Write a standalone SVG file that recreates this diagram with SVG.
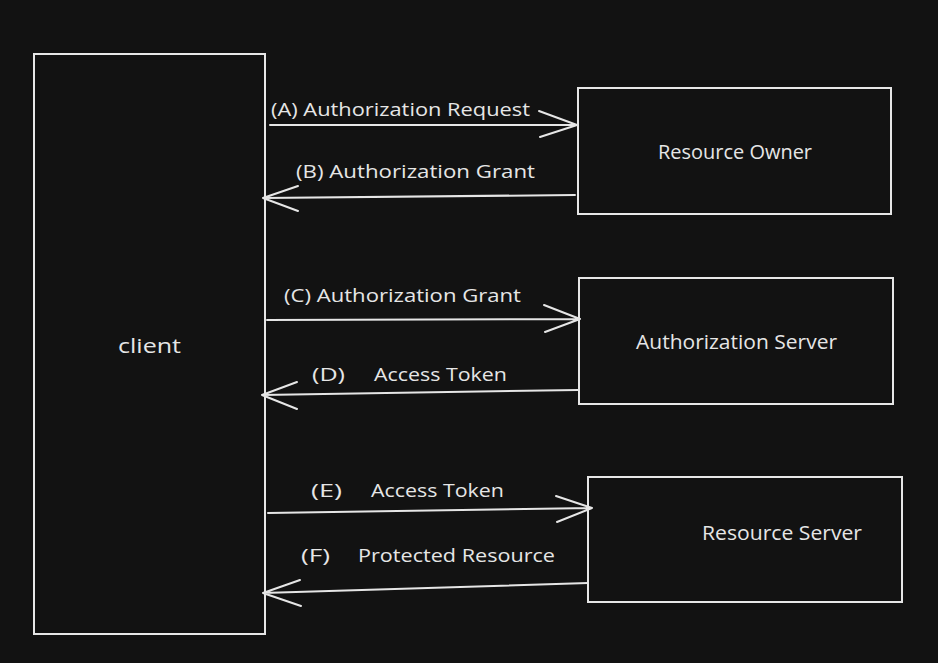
<svg xmlns="http://www.w3.org/2000/svg" width="938" height="663" viewBox="0 0 938 663">
<style>
.bg{fill:#121212}
.box{fill:none;stroke:#e6e6e6;stroke-width:2}
.ln{fill:none;stroke:#e6e6e6;stroke-width:2;stroke-linecap:round;stroke-linejoin:round}
.t{fill:#e6e6e6;font-family:"Open Sans","Liberation Sans",sans-serif;font-size:19px}
.n{fill:#e6e6e6;font-family:"Open Sans","Liberation Sans",sans-serif;font-size:20px}
</style>
<rect class="bg" x="0" y="0" width="938" height="663"/>
<g id="client">
<rect class="box" x="34" y="54" width="231" height="580"/>
<text class="n" x="118" y="353" font-size="25" textLength="63" lengthAdjust="spacingAndGlyphs">client</text>
</g>
<g id="resource-owner">
<rect class="box" x="578" y="88" width="313" height="126"/>
<text class="n" x="658" y="159" textLength="154" lengthAdjust="spacingAndGlyphs">Resource Owner</text>
</g>
<g id="authorization-server">
<rect class="box" x="579" y="278" width="314" height="126"/>
<text class="n" x="636" y="349" textLength="201" lengthAdjust="spacingAndGlyphs">Authorization Server</text>
</g>
<g id="resource-server">
<rect class="box" x="588" y="477" width="314" height="125"/>
<text class="n" x="702" y="540" textLength="160" lengthAdjust="spacingAndGlyphs">Resource Server</text>
</g>
<g id="connectors">
<path class="ln" d="M270 125 L577 125 M539 111 L577 125 L540 137"/>
<path class="ln" d="M575 195 L263 198 M298 186 L263 198 L298 211"/>
<path class="ln" d="M267 320 L580 319 M544 305 L580 319 L545 332"/>
<path class="ln" d="M578 390 L262 395 M297 382 L262 395 L297 409"/>
<path class="ln" d="M268 513 L592 508 M556 496 L592 508 L557 522"/>
<path class="ln" d="M588 583 L263 593 M300 580 L263 593 L301 606"/>
</g>
<g id="labels">
<text class="t" x="271" y="116" textLength="259" lengthAdjust="spacingAndGlyphs">(A) Authorization Request</text>
<text class="t" x="296" y="178" textLength="239" lengthAdjust="spacingAndGlyphs">(B) Authorization Grant</text>
<text class="t" x="284" y="302" textLength="237" lengthAdjust="spacingAndGlyphs">(C) Authorization Grant</text>
<text class="t" x="312" y="381" textLength="33" lengthAdjust="spacingAndGlyphs">(D)</text>
<text class="t" x="374" y="381" textLength="133" lengthAdjust="spacingAndGlyphs">Access Token</text>
<text class="t" x="311" y="497" textLength="31" lengthAdjust="spacingAndGlyphs">(E)</text>
<text class="t" x="371" y="497" textLength="133" lengthAdjust="spacingAndGlyphs">Access Token</text>
<text class="t" x="301" y="562" textLength="29" lengthAdjust="spacingAndGlyphs">(F)</text>
<text class="t" x="358" y="562" textLength="197" lengthAdjust="spacingAndGlyphs">Protected Resource</text>
</g>
</svg>
